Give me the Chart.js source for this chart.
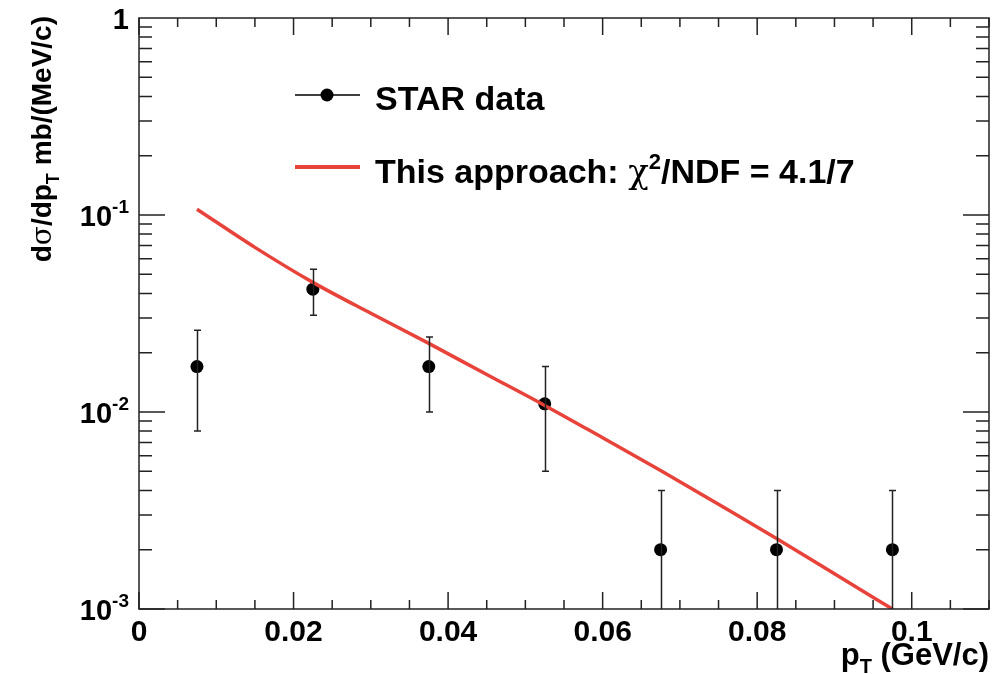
<!DOCTYPE html>
<html>
<head>
<meta charset="utf-8">
<script src="https://cdn.jsdelivr.net/npm/chart.js@4"></script>
<style>
  html, body { margin: 0; padding: 0; background: #fff; overflow: hidden; }
  canvas { display: block; }
</style>
</head>
<body>
<canvas id="cvs_grafico" width="1001" height="674"></canvas>
<script>
// valores
const pT = [0.0075, 0.0225, 0.0375, 0.0525, 0.0675, 0.0825, 0.0975];
const starSigma = [0.017, 0.042, 0.017, 0.011, 0.002, 0.002, 0.002];
const starErrLow = [0.008, 0.031, 0.010, 0.005, 0, 0, 0];
const starErrHigh = [0.026, 0.053, 0.024, 0.017, 0.004, 0.004, 0.004];

const modeloPt = [0.0075, 0.015, 0.0225, 0.03, 0.0375, 0.045, 0.0525, 0.06, 0.0675, 0.075, 0.0825, 0.09, 0.0975];
const modeloSigma = [0.107, 0.0685, 0.0455, 0.0317, 0.0223, 0.0155, 0.0108, 0.0074, 0.00505, 0.0034, 0.00228, 0.00151, 0.001];

const xTickValues = [0, 0.02, 0.04, 0.06, 0.08, 0.1];
const xTickLabels = ["0", "0.02", "0.04", "0.06", "0.08", "0.1"];
const yTickValues = [0.001, 0.01, 0.1, 1];
const yTickBase = ["10", "10", "10", "1"];
const yTickExp = ["-3", "-2", "-1", ""];

const FONTE = "'Liberation Sans', Arial, sans-serif";

function larguraRuns(ctx, runs) {
  var w = 0;
  runs.forEach((r) => {
    ctx.font = r.font;
    w += ctx.measureText(r.text).width;
  });
  return w;
}

function desenhaRuns(ctx, runs, x, y) {
  runs.forEach((r) => {
    ctx.font = r.font;
    ctx.fillText(r.text, x, y + (r.dy || 0));
    x += ctx.measureText(r.text).width;
  });
  return x;
}

const pluginRoot = {
  id: "estiloRoot",
  beforeDraw(chart) {
    const ctx = chart.ctx;
    ctx.save();
    ctx.fillStyle = "#fff";
    ctx.fillRect(0, 0, chart.width, chart.height);
    ctx.restore();
  },
  afterDatasetsDraw(chart) {
    // barras de erro dos dados STAR
    const ctx = chart.ctx;
    const x = chart.scales.x;
    const y = chart.scales.y;
    ctx.save();
    ctx.strokeStyle = "#222";
    ctx.lineWidth = 1.5;
    pT.forEach((p, i) => {
      const px = Math.round(x.getPixelForValue(p)) + 0.5;
      const yTop = y.getPixelForValue(starErrHigh[i]);
      const low = Math.max(starErrLow[i], y.min);
      const yBot = y.getPixelForValue(low);
      ctx.beginPath();
      ctx.moveTo(px, yTop);
      ctx.lineTo(px, yBot);
      ctx.moveTo(px - 3.5, yTop);
      ctx.lineTo(px + 3.5, yTop);
      if (starErrLow[i] > y.min) {
        ctx.moveTo(px - 3.5, yBot);
        ctx.lineTo(px + 3.5, yBot);
      }
      ctx.stroke();
    });
    ctx.restore();
  },
  afterDraw(chart) {
    const ctx = chart.ctx;
    const a = chart.chartArea;
    const x = chart.scales.x;
    const y = chart.scales.y;
    ctx.save();
    ctx.strokeStyle = "#222";
    ctx.lineWidth = 1.5;
    ctx.strokeRect(a.left, a.top, a.right - a.left, a.bottom - a.top);

    // ticks do eixo x (em baixo e em cima)
    ctx.beginPath();
    for (var k = 0; k <= 22; k++) {
      const v = k * 0.005;
      const px = x.getPixelForValue(v);
      const len = k % 4 === 0 ? 17 : 9;
      ctx.moveTo(px, a.bottom);
      ctx.lineTo(px, a.bottom - len);
      ctx.moveTo(px, a.top);
      ctx.lineTo(px, a.top + len);
    }
    // ticks do eixo y (log)
    for (var d = -3; d < 0; d++) {
      for (var m = 1; m <= 9; m++) {
        const py = y.getPixelForValue(m * Math.pow(10, d));
        const len = m === 1 ? 26 : 13;
        ctx.moveTo(a.left, py);
        ctx.lineTo(a.left + len, py);
        ctx.moveTo(a.right, py);
        ctx.lineTo(a.right - len, py);
      }
    }
    ctx.stroke();

    // rotulos dos ticks
    ctx.fillStyle = "#000";
    ctx.textAlign = "center";
    ctx.textBaseline = "alphabetic";
    ctx.font = "bold 30px " + FONTE;
    xTickValues.forEach((v, i) => {
      ctx.fillText(xTickLabels[i], x.getPixelForValue(v), 641);
    });
    ctx.textAlign = "left";
    yTickValues.forEach((v, i) => {
      const runs = [{ text: yTickBase[i], font: "bold 29px " + FONTE }];
      if (yTickExp[i]) {
        runs.push({ text: yTickExp[i], font: "bold 19px " + FONTE, dy: -13 });
      }
      const w = larguraRuns(ctx, runs);
      desenhaRuns(ctx, runs, 129 - w, y.getPixelForValue(v) + 11);
    });

    // titulo do eixo x
    const tituloX = [
      { text: "p", font: "bold 31px " + FONTE },
      { text: "T", font: "bold 20px " + FONTE, dy: 8 },
      { text: " (GeV/c)", font: "bold 31px " + FONTE },
    ];
    desenhaRuns(ctx, tituloX, a.right - larguraRuns(ctx, tituloX), 665);

    // titulo do eixo y (rotacionado)
    const tituloY = [
      { text: "d", font: "bold 28px " + FONTE },
      { text: "σ", font: "28px 'DejaVu Serif', serif" },
      { text: "/dp", font: "bold 28px " + FONTE },
      { text: "T", font: "bold 18px " + FONTE, dy: 8 },
      { text: " mb/(MeV/c)", font: "bold 28px " + FONTE },
    ];
    ctx.save();
    ctx.translate(51, 0);
    ctx.rotate(-Math.PI / 2);
    const wy = larguraRuns(ctx, tituloY);
    desenhaRuns(ctx, tituloY, -16 - wy, 0);
    ctx.restore();

    // legenda
    ctx.strokeStyle = "#000";
    ctx.lineWidth = 1.5;
    ctx.beginPath();
    ctx.moveTo(295, 95);
    ctx.lineTo(360, 95);
    ctx.stroke();
    ctx.fillStyle = "#000";
    ctx.beginPath();
    ctx.arc(327, 95, 6.5, 0, Math.PI * 2);
    ctx.fill();
    ctx.strokeStyle = "#e8433b";
    ctx.lineWidth = 4;
    ctx.beginPath();
    ctx.moveTo(295, 167);
    ctx.lineTo(360, 167);
    ctx.stroke();

    ctx.fillStyle = "#000";
    desenhaRuns(ctx, [{ text: "STAR data", font: "bold 34px " + FONTE }], 375, 110);
    desenhaRuns(
      ctx,
      [
        { text: "This approach: ", font: "bold 34px " + FONTE },
        { text: "χ", font: "34px 'DejaVu Serif', serif" },
        { text: "2", font: "bold 22px " + FONTE, dy: -14 },
        { text: "/NDF = 4.1/7", font: "bold 34px " + FONTE },
      ],
      375,
      183
    );
    ctx.restore();
  },
};

new Chart(document.getElementById("cvs_grafico"), {
  type: "scatter",
  data: {
    datasets: [
      {
        label: "This approach",
        data: modeloPt.map((p, i) => ({ x: p, y: modeloSigma[i] })),
        showLine: true,
        borderColor: "#e8433b",
        borderWidth: 3.5,
        pointRadius: 0,
        cubicInterpolationMode: "monotone",
        fill: false,
      },
      {
        label: "STAR data",
        data: pT.map((p, i) => ({ x: p, y: starSigma[i] })),
        showLine: false,
        backgroundColor: "#000",
        borderColor: "#000",
        pointRadius: 6.5,
        pointBorderWidth: 0,
      },
    ],
  },
  options: {
    responsive: false,
    animation: false,
    devicePixelRatio: 1,
    layout: { padding: { left: 139, right: 12, top: 18, bottom: 65 } },
    plugins: {
      legend: { display: false },
      title: { display: false },
      tooltip: { enabled: false },
    },
    scales: {
      x: { type: "linear", min: 0, max: 0.11, display: false },
      y: { type: "logarithmic", min: 0.001, max: 1, display: false },
    },
  },
  plugins: [pluginRoot],
});
</script>
</body>
</html>
